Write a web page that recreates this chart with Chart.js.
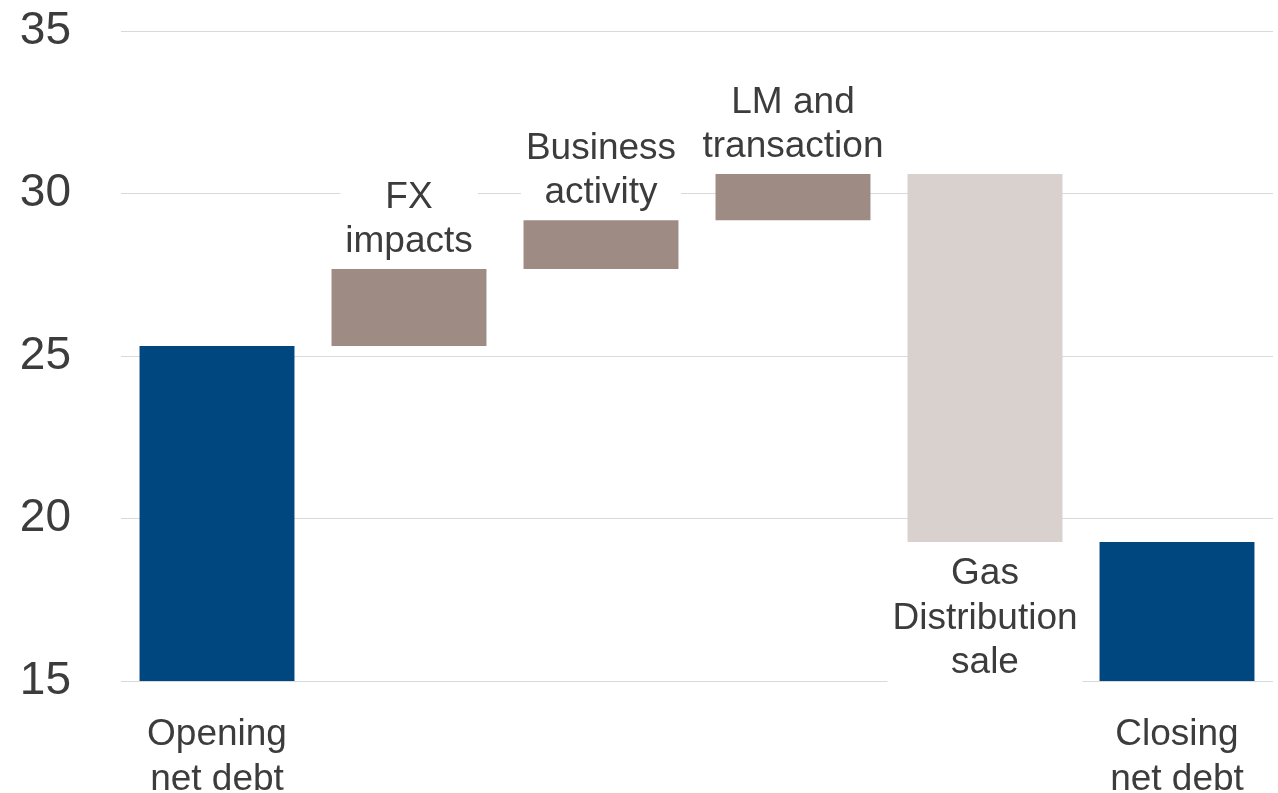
<!DOCTYPE html>
<html>
<head>
<meta charset="utf-8">
<script src="https://cdn.jsdelivr.net/npm/chart.js@4"></script>
<style>
  html, body { margin: 0; padding: 0; background: #ffffff; }
  #wrap { width: 1278px; height: 793px; position: relative; }
</style>
</head>
<body>
<div id="wrap"><canvas id="chart"></canvas></div>
<script>
// waterfall data (net debt)
const categories = ["Opening net debt", "FX impacts", "Business activity", "LM and transaction", "Gas Distribution sale", "Closing net debt"];
const openingValue = 25.31;
const stepChanges = [2.37, 1.50, 1.42, -11.32];
const axisLabels = [["Opening", "net debt"], "", "", "", "", ["Closing", "net debt"]];
const barLabels = [null, ["FX", "impacts"], ["Business", "activity"], ["LM and", "transaction"], ["Gas", "Distribution", "sale"], null];
const yTicks = [15, 20, 25, 30, 35];

const BASE = 15;
const colTotal = "#00477f";
const colUp = "#9e8c84";
const colDown = "#d9d1ce";
const textCol = "#3c3c3c";
const fontFam = "'Liberation Sans', Arial, sans-serif";

// build floating ranges
const ranges = [[BASE, openingValue]];
let run = openingValue;
for (const d of stepChanges) {
  ranges.push([run, run + d]);
  run += d;
}
ranges.push([BASE, run]);

const colors = ranges.map((r, i) => {
  if (i === 0 || i === ranges.length - 1) return colTotal;
  return r[1] >= r[0] ? colUp : colDown;
});

const labelPlugin = {
  id: "barLabels",
  afterDatasetsDraw(chart) {
    const ctx = chart.ctx;
    const meta = chart.getDatasetMeta(0);
    const y = chart.scales.y;
    const lh = 44.5;
    ctx.save();
    ctx.font = "37px " + fontFam;
    ctx.textAlign = "center";
    ctx.textBaseline = "middle";
    barLabels.forEach((lines, i) => {
      if (!lines) return;
      const el = meta.data[i];
      const r = ranges[i];
      const up = r[1] >= r[0];
      const w = Math.max(...lines.map((t) => ctx.measureText(t).width)) + 10;
      let firstY;
      if (up) {
        const top = y.getPixelForValue(Math.max(r[0], r[1]));
        firstY = top - 27 - (lines.length - 1) * lh;
      } else {
        const bot = y.getPixelForValue(Math.min(r[0], r[1]));
        firstY = bot + 32;
      }
      const boxTop = firstY - lh / 2;
      const boxH = lines.length * lh;
      ctx.fillStyle = "#ffffff";
      ctx.fillRect(el.x - w / 2, boxTop, w, boxH);
      ctx.fillStyle = textCol;
      lines.forEach((t, k) => ctx.fillText(t, el.x, firstY + k * lh));
    });
    ctx.restore();
  },
};

new Chart(document.getElementById("chart"), {
  type: "bar",
  data: {
    labels: categories,
    datasets: [
      {
        data: ranges,
        backgroundColor: colors,
        borderWidth: 0,
        categoryPercentage: 1,
        barPercentage: 0.807,
      },
    ],
  },
  options: {
    responsive: true,
    maintainAspectRatio: false,
    animation: false,
    layout: { padding: { top: 31, right: 5, bottom: 0, left: 0 } },
    plugins: {
      legend: { display: false },
      tooltip: { enabled: false },
    },
    scales: {
      x: {
        grid: { display: false, drawTicks: false },
        border: { display: false },
        ticks: {
          autoSkip: false,
          maxRotation: 0,
          padding: 32,
          color: textCol,
          font: { family: fontFam, size: 37, lineHeight: 1.2 },
          callback: (v, i) => axisLabels[i],
        },
        afterFit: (s) => { s.height = 112; },
      },
      y: {
        min: yTicks[0],
        max: yTicks[yTicks.length - 1],
        afterBuildTicks: (s) => { s.ticks = yTicks.map((v) => ({ value: v })); },
        grid: { color: "#d9d9d9", lineWidth: 1, drawTicks: true, tickLength: 50, tickColor: "rgba(0,0,0,0)" },
        border: { display: false },
        ticks: {
          padding: 0,
          color: textCol,
          font: { family: fontFam, size: 46 },
        },
        afterFit: (s) => { s.width = 121; },
      },
    },
  },
  plugins: [labelPlugin],
});
</script>
</body>
</html>
